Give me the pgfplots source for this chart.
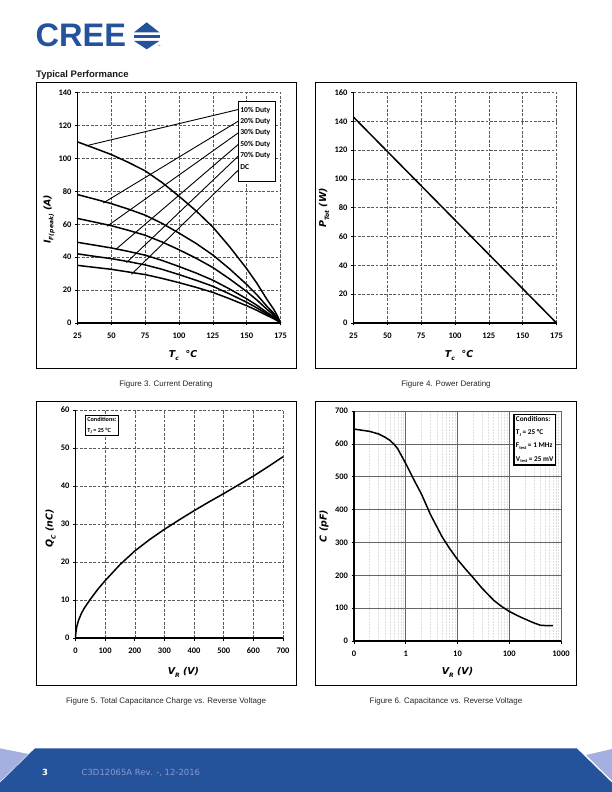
\documentclass[border=0pt]{standalone}
\usepackage{pgfplots}
\pgfplotsset{compat=1.18}
\usepackage{fontspec}
\setmainfont{Liberation Sans}
\newfontfamily\calfont{Carlito}
\newfontfamily\dvfont{DejaVu Sans}
\definecolor{creeblue}{RGB}{37,83,155}
\definecolor{lav}{RGB}{166,176,224}
\definecolor{footgray}{RGB}{140,152,205}
\newcommand{\tl}{\fontsize{8.5}{9}\calfont\bfseries}
\newcommand{\al}{\fontsize{9.5}{10}\dvfont\bfseries\itshape}
\newcommand{\bx}{\fontsize{7.6}{8}\calfont\bfseries}
\newcommand{\sbs}[1]{\raisebox{-0.3em}{\fontsize{6}{6}\selectfont #1}}
\newcommand{\sbx}[1]{\raisebox{-0.25em}{\fontsize{4.5}{4.5}\selectfont #1}}
\pgfplotsset{
  cree/.style={
    scale only axis,
    anchor=south west,
    axis lines=left,
    axis line style={-, line width=1.6bp, black},
    tick align=outside,
    major tick length=2.5bp,
    tick style={black, line width=0.6bp},
    grid=major,
    major grid style={dash pattern=on 2.8bp off 1.6bp, line width=0.5bp, black!65},
    ticklabel style={font=\tl},
    typeset ticklabels with strut,
    yticklabel style={yshift=-1bp},
    /pgf/number format/assume math mode=true,
    /pgf/number format/1000 sep={},
    xticklabel shift=3.5bp,
    clip=false,
    xlabel style={font=\al, anchor=center},
    ylabel style={font=\al, anchor=center},
  },
  curve/.style={black, line width=1.5bp, line join=round, no marks},
  lead/.style={black, line width=0.9bp, no marks},
}
\begin{document}
\begin{tikzpicture}
\begin{scope}[yshift=792bp, x=1bp, y=-1bp]
\useasboundingbox (0,0) rectangle (612,792);
\fill[white] (0,0) rectangle (612,792);
% logo
\node[anchor=base west, inner sep=0, text=creeblue, font=\fontsize{32.7}{33}\selectfont\bfseries] at (35.5,46.7) {CREE};
\fill[creeblue] (134,32.3) -- (146.7,22.3) -- (159.3,32.3) -- cycle;
\fill[creeblue] (133.5,35) rectangle (160,38.3);
\fill[creeblue] (134,41) -- (159.3,41) -- (146.7,49.3) -- cycle;
\node[anchor=base west, inner sep=0, text=creeblue, font=\fontsize{3}{3}\selectfont] at (157.5,48) {™};
% title
\node[anchor=base west, inner sep=0, text=black!90, font=\fontsize{9.5}{10}\selectfont\bfseries] at (36,77.5) {Typical Performance};
% frames
\draw[line width=0.8bp] (36,82) rectangle (296,368);
\draw[line width=0.8bp] (315,82) rectangle (576,368);
\draw[line width=0.8bp] (36,401) rectangle (296,685);
\draw[line width=0.8bp] (315,401) rectangle (576,685);
% captions
\node[font=\fontsize{8}{9}\selectfont, text=black!85] at (166,384) {Figure 3. Current Derating};
\node[font=\fontsize{8}{9}\selectfont, text=black!85] at (446,384) {Figure 4. Power Derating};
\node[font=\fontsize{8}{9}\selectfont, text=black!85] at (166,701) {Figure 5. Total Capacitance Charge vs. Reverse Voltage};
\node[font=\fontsize{8}{9}\selectfont, text=black!85] at (446,701) {Figure 6. Capacitance vs. Reverse Voltage};
% footer
\fill[creeblue] (35,748.3) -- (576.7,748.3) -- (612,782.7) -- (612,792) -- (0,792) -- (0,782.7) -- cycle;
\fill[lav] (0,748.3) -- (28.3,754) -- (0,781.7) -- cycle;
\fill[lav] (612,749) -- (586,755) -- (612,780.7) -- cycle;
\node[anchor=base west, inner sep=0, text=white, font=\fontsize{8.5}{9}\dvfont\bfseries] at (42,775.3) {3};
\node[anchor=base west, inner sep=0, text=footgray, font=\fontsize{8.5}{9}\dvfont] at (81.5,775.3) {C3D12065A Rev. -, 12-2016};
\end{scope}

% ---------- Figure 3 ----------
\begin{axis}[cree, at={(77.5bp,469bp)}, width=203bp, height=230.5bp,
  xmin=25, xmax=175, ymin=0, ymax=140,
  xtick={25,50,...,175}, ytick={0,20,...,140},
  xlabel={T\sbs{c}\ \ °C}, ylabel={I\sbs{F(peak)} (A)},
  xlabel style={at={(axis description cs:0.52,-0.14)}},
  ylabel style={at={(axis description cs:-0.14,0.45)}},
]
\addplot[curve] coordinates {(25,110) (37.5,106.2) (50,102.3) (62.5,97.6) (75,92.4) (87.5,85.3) (100,77.0) (112.5,68.2) (125,58.3) (137.5,46.2) (150,33.0) (157.5,24.2) (165,14.3) (170,8.3) (173,3.9) (175,0)};
\addplot[curve] coordinates {(25,78) (37.5,75.3) (50,72.5) (62.5,69.2) (75,65.5) (87.5,60.5) (100,54.6) (112.5,48.4) (125,41.3) (137.5,32.8) (150,23.4) (157.5,17.2) (165,10.1) (170,5.9) (173,2.7) (175,0)};
\addplot[curve] coordinates {(25,63.5) (37.5,61.3) (50,59.1) (62.5,56.3) (75,53.3) (87.5,49.2) (100,44.5) (112.5,39.4) (125,33.7) (137.5,26.7) (150,19.1) (157.5,14.0) (165,8.3) (170,4.8) (173,2.2) (175,0)};
\addplot[curve] coordinates {(25,49) (37.5,47.3) (50,45.6) (62.5,43.5) (75,41.2) (87.5,38.0) (100,34.3) (112.5,30.4) (125,26.0) (137.5,20.6) (150,14.7) (157.5,10.8) (165,6.4) (170,3.7) (173,1.7) (175,0)};
\addplot[curve] coordinates {(25,42) (37.5,40.5) (50,39.1) (62.5,37.3) (75,35.3) (87.5,32.6) (100,29.4) (112.5,26.0) (125,22.3) (137.5,17.6) (150,12.6) (157.5,9.2) (165,5.5) (170,3.2) (173,1.5) (175,0)};
\addplot[curve] coordinates {(25,35) (37.5,33.8) (50,32.6) (62.5,31.0) (75,29.4) (87.5,27.1) (100,24.5) (112.5,21.7) (125,18.6) (137.5,14.7) (150,10.5) (157.5,7.7) (165,4.6) (170,2.6) (173,1.2) (175,0)};
% leader lines
\addplot[lead] coordinates {(31.2,107.6) (144,129.7)};
\addplot[lead] coordinates {(44,72.9) (144,122.7)};
\addplot[lead] coordinates {(46.9,58.8) (144,115.6)};
\addplot[lead] coordinates {(53.3,44.7) (144,108.6)};
\addplot[lead] coordinates {(61.2,36.7) (144,101.5)};
\addplot[lead] coordinates {(64.9,29.6) (144,93)};
\draw[line width=1.2bp, fill=white] (axis cs:144,86) rectangle (axis cs:171.2,134.4);
\node[anchor=west, font=\bx, inner sep=0] at (axis cs:145.2,129.3) {10\% Duty};
\node[anchor=west, font=\bx, inner sep=0] at (axis cs:145.2,122.4) {20\% Duty};
\node[anchor=west, font=\bx, inner sep=0] at (axis cs:145.2,115.6) {30\% Duty};
\node[anchor=west, font=\bx, inner sep=0] at (axis cs:145.2,108.7) {50\% Duty};
\node[anchor=west, font=\bx, inner sep=0] at (axis cs:145.2,101.8) {70\% Duty};
\node[anchor=west, font=\bx, inner sep=0] at (axis cs:145.2,95.0) {DC};
\end{axis}

% ---------- Figure 4 ----------
\begin{axis}[cree, at={(353.5bp,469bp)}, width=203bp, height=230.5bp,
  xmin=25, xmax=175, ymin=0, ymax=160,
  xtick={25,50,...,175}, ytick={0,20,...,160},
  xlabel={T\sbs{c}\ \ °C}, ylabel={P\sbs{Tot} (W)},
  xlabel style={at={(axis description cs:0.52,-0.14)}},
  ylabel style={at={(axis description cs:-0.145,0.5)}},
]
\addplot[curve] coordinates {(25,142.9) (175,0)};
\end{axis}

% ---------- Figure 5 ----------
\begin{axis}[cree, at={(75.5bp,154bp)}, width=207.5bp, height=228bp,
  xmin=0, xmax=700, ymin=0, ymax=60,
  xtick={0,100,...,700}, ytick={0,10,...,60},
  xlabel={V\sbs{R} (V)}, ylabel={Q\sbs{C} (nC)},
  xlabel style={at={(axis description cs:0.52,-0.15)}},
  ylabel style={at={(axis description cs:-0.12,0.48)}},
]
\addplot[curve] coordinates {(0,0) (1,1.2) (3,2.4) (5,3.2) (10,4.6) (20,6.5) (30,7.9) (50,10.2) (75,12.8) (100,15.1) (150,19.3) (200,22.9) (250,25.9) (300,28.6) (350,31.1) (400,33.5) (450,35.8) (500,38.0) (550,40.3) (600,42.6) (650,45.1) (700,47.7)};
\node[draw, line width=1.2bp, fill=white, anchor=north west, align=left, font=\fontsize{6.2}{11}\calfont\bfseries, inner xsep=1.8bp, inner ysep=1.5bp] at (axis cs:32,58.7) {Conditions:\\T\sbx{J} = 25 °C};
\end{axis}

% ---------- Figure 6 ----------
\begin{axis}[cree, at={(354bp,151bp)}, width=207bp, height=230bp,
  xmode=log, xmin=0.1, xmax=1000, ymin=0, ymax=700,
  xtick={0.1,1,10,100,1000}, xticklabels={0,1,10,100,1000},
  minor xtick={0.2,0.3,0.4,0.5,0.6,0.7,0.8,0.9,2,3,4,5,6,7,8,9,20,30,40,50,60,70,80,90,200,300,400,500,600,700,800,900},
  minor tick length=0pt,
  ytick={0,100,...,700},
  grid=both,
  major grid style={solid, line width=0.55bp, black!60},
  minor grid style={dash pattern=on 2bp off 1bp, line width=0.4bp, black!12},
  xlabel={V\sbs{R} (V)}, ylabel={C (pF)},
  xlabel style={at={(axis description cs:0.5,-0.138)}},
  ylabel style={at={(axis description cs:-0.145,0.5)}},
]
\addplot[curve] coordinates {(0.1,645) (0.2,638) (0.3,630) (0.4,620) (0.5,610) (0.6,598) (0.7,585) (0.8,568) (1,540) (1.5,485) (2,448) (3,385) (5,318) (7,282) (10,248) (15,215) (20,193) (30,160) (50,124) (70,106) (100,90) (150,76) (200,67) (300,55) (400,48) (500,47) (700,47)};
\node[draw, line width=1.2bp, fill=white, anchor=north west, align=left, font=\fontsize{7.3}{13.2}\calfont\bfseries, inner xsep=2bp, inner ysep=2bp] at (axis cs:120,691) {Conditions:\\T\sbx{J} = 25 °C\\F\sbx{test} = 1 MHz\\V\sbx{test} = 25 mV};
\end{axis}
\end{tikzpicture}
\end{document}
